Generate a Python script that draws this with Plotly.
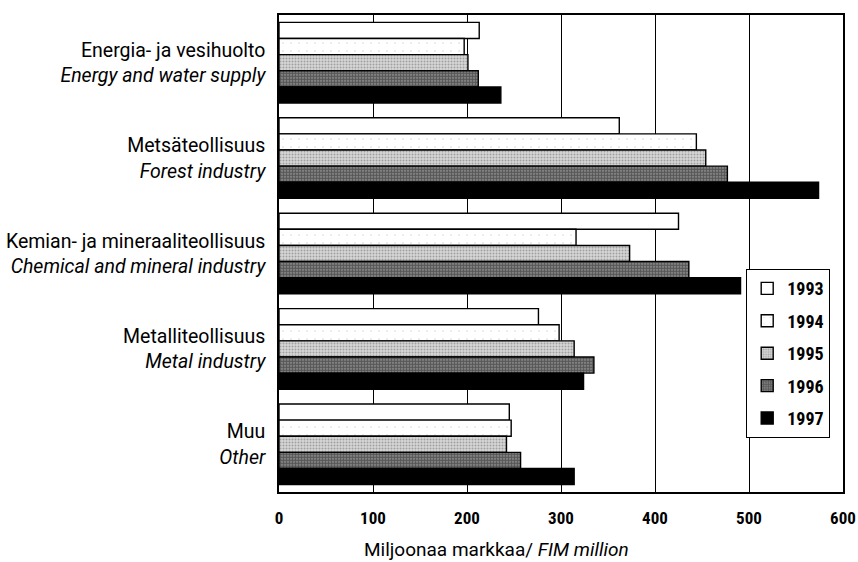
import plotly.graph_objects as go

categories = [
    "Energia- ja vesihuolto<br><i>Energy and water supply</i>",
    "Metsäteollisuus<br><i>Forest industry</i>",
    "Kemian- ja mineraaliteollisuus<br><i>Chemical and mineral industry</i>",
    "Metalliteollisuus<br><i>Metal industry</i>",
    "Muu<br><i>Other</i>",
]
years = ["1993", "1994", "1995", "1996", "1997"]
v1993 = [213, 362, 425, 276, 245]
v1994 = [197, 444, 316, 298, 247]
v1995 = [201, 454, 373, 314, 242]
v1996 = [212, 477, 436, 335, 257]
v1997 = [236, 574, 491, 324, 314]
values = [v1993, v1994, v1995, v1996, v1997]
xticks = [0, 100, 200, 300, 400, 500, 600]

LABEL_FONT = "Roboto, Liberation Sans, sans-serif"
COND_FONT = "Roboto Condensed, Roboto, sans-serif"

styles = [
    dict(color="white"),
    dict(color="white", pattern=dict(shape=".", fgcolor="#c8c8c8", bgcolor="white", size=8, solidity=0.04)),
    dict(color="#b8b8b8", pattern=dict(shape=".", fgcolor="#6a6a6a", bgcolor="#d6d6d6", size=3, solidity=0.35)),
    dict(color="#5e5e5e", pattern=dict(shape=".", fgcolor="#111111", bgcolor="#9a9a9a", size=3, solidity=0.7)),
    dict(color="black"),
]

fig = go.Figure()
for yr, vals, st in zip(years, values, styles):
    marker = dict(line=dict(color="black", width=1.4), **st)
    fig.add_trace(go.Bar(
        y=categories, x=vals, name=yr, orientation="h",
        marker=marker, legendgroup=yr,
    ))

fig.update_layout(
    width=858, height=562,
    margin=dict(l=279, r=15, t=15, b=70),
    paper_bgcolor="white", plot_bgcolor="white",
    barmode="group", bargap=0.155, bargroupgap=0,
    font=dict(family=LABEL_FONT, color="black", size=19.5),
    showlegend=True,
    legend=dict(
        x=(746 - 279) / 564, y=(492 - 269) / 477, xanchor="left", yanchor="top",
        bordercolor="black", borderwidth=1.2, bgcolor="white",
        font=dict(family=COND_FONT, size=18, color="black", weight="bold"),
        tracegroupgap=6, traceorder="grouped", itemwidth=30,
    ),
    xaxis=dict(
        range=[0, 600], tickvals=xticks,
        ticktext=[f"<b>{t}</b>" for t in xticks],
        showgrid=True, gridcolor="black", gridwidth=1,
        showline=True, linecolor="black", linewidth=1.5, mirror=True,
        ticks="", tickfont=dict(family=COND_FONT, size=17), zeroline=False,
        ticklabelstandoff=10, automargin=False,
    ),
    yaxis=dict(
        autorange="reversed", showline=True, linecolor="black", linewidth=1.5, mirror=True,
        ticks="", tickfont=dict(family=LABEL_FONT, size=19.5), showgrid=False,
        ticklabelstandoff=8, automargin=False,
    ),
    annotations=[dict(
        text="Miljoonaa markkaa/ <i>FIM million</i>", xref="paper", yref="paper",
        x=(496 - 279) / 564, y=(492 - 549) / 477, xanchor="center", yanchor="middle",
        showarrow=False, font=dict(family=LABEL_FONT, size=19, color="black"),
    )],
)

fig.write_html("out.html", post_script="document.body.style.margin='0px';",
               config={"displayModeBar": False})
